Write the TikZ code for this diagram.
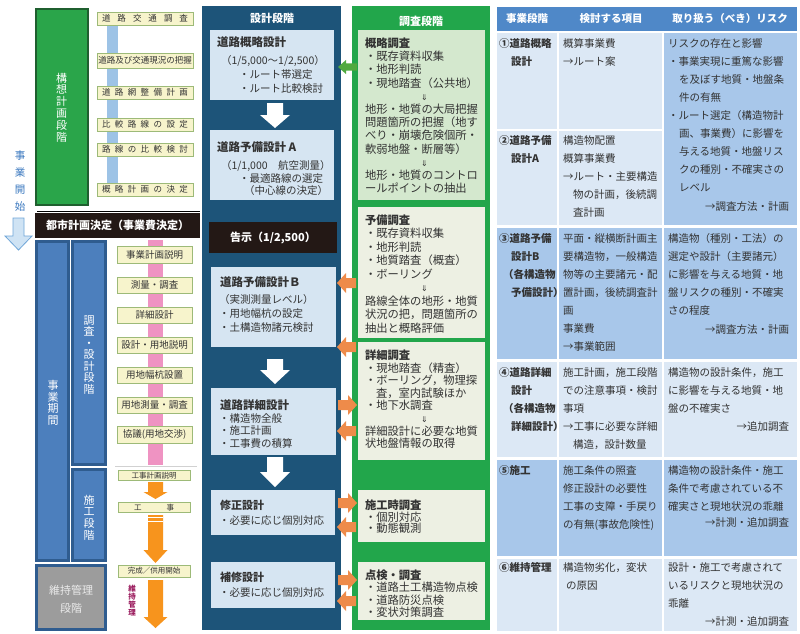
\documentclass[tikz,border=0pt]{standalone}
\usepackage{fontspec}
\setmainfont{Noto Sans CJK JP}
\newfontfamily\dejavu{DejaVu Sans}
\definecolor{kgreen}{HTML}{2AA54A}
\definecolor{kgreenD}{HTML}{1F5F2F}
\definecolor{sgreen}{HTML}{22A64B}
\definecolor{dnavy}{HTML}{1D5479}
\definecolor{dbox}{HTML}{D6E5F2}
\definecolor{sboxA}{HTML}{D4E8CE}
\definecolor{sboxB}{HTML}{EDF0E3}
\definecolor{yfill}{HTML}{F7F4CC}
\definecolor{yborder}{HTML}{9DBA78}
\definecolor{bbar}{HTML}{9DC3E6}
\definecolor{pinkbar}{HTML}{EF93C2}
\definecolor{orangeL}{HTML}{F7941D}
\definecolor{orangeM}{HTML}{EE8B4A}
\definecolor{garrow}{HTML}{50A93F}
\definecolor{thead}{HTML}{4F88C8}
\definecolor{tlight}{HTML}{DCE8F5}
\definecolor{tmid}{HTML}{A8C7EA}
\definecolor{pnavy}{HTML}{2F5C8F}
\definecolor{pblue}{HTML}{4C7FBD}
\definecolor{pgray}{HTML}{9C9C9C}
\definecolor{kaishi}{HTML}{3A78BF}
\definecolor{magent}{HTML}{9B1C5E}
\definecolor{bannerblack}{HTML}{231815}
\definecolor{lbfill}{HTML}{CFE3F4}
\definecolor{lbdraw}{HTML}{6FA6D8}
\definecolor{txt}{HTML}{333333}
\newcommand{\arrL}[3]{\fill[#1] (#2,#3) -- (#2+9,#3-10) -- (#2+9,#3-5) -- (#2+19,#3-5) -- (#2+19,#3+5) -- (#2+9,#3+5) -- (#2+9,#3+10) -- cycle;}
\newcommand{\arrR}[3]{\fill[#1] (#2,#3) -- (#2-9,#3-10) -- (#2-9,#3-5) -- (#2-19,#3-5) -- (#2-19,#3+5) -- (#2-9,#3+5) -- (#2-9,#3+10) -- cycle;}
\newcommand{\arrD}[7]{\fill[#1] (#2-#6,#3) -- (#2+#6,#3) -- (#2+#6,#4) -- (#2+#7,#4) -- (#2,#5) -- (#2-#7,#4) -- (#2-#6,#4) -- cycle;}
\newcommand{\dnarrow}{{\dejavu\fontsize{8}{8}\selectfont ⇓}}
\tikzset{
  every node/.style={inner sep=0pt, outer sep=0pt},
  rbox/.style={rectangle, anchor=north west, draw=none},
  ybox/.style={rectangle, anchor=north west, draw=yborder, fill=yfill, line width=0.8pt, text=txt, font=\fontsize{8.5}{9}\selectfont},
  ymid/.style={ybox, font=\fontsize{9.5}{10}\selectfont},
  ysmall/.style={ybox, font=\fontsize{7.5}{8}\selectfont},
  tt/.style={anchor=north west, align=left, text=txt, font=\fontsize{10.5}{18}\selectfont},
  tb/.style={anchor=north west, align=left, text=txt, font=\bfseries\fontsize{10.5}{18}\selectfont},
  tr/.style={anchor=east, text=txt, font=\fontsize{10.5}{18}\selectfont},
  th/.style={text=white, font=\bfseries\fontsize{10.5}{12}\selectfont},
  st/.style={anchor=north west, align=left, text=txt, font=\fontsize{11.3}{#1}\selectfont},
  dt/.style={anchor=north west, align=left, text=txt, font=\fontsize{10.5}{#1}\selectfont},
  dtitle/.style={anchor=north west, text=txt, font=\bfseries\fontsize{11.5}{14}\selectfont},
  vt/.style={align=center, font=\fontsize{11}{#1}\selectfont},
  banner/.style={rectangle, anchor=north west, fill=bannerblack, text=white, font=\bfseries\fontsize{11}{12}\selectfont},
  pframe/.style={rectangle, anchor=north west, draw=pnavy, line width=3pt, fill=pblue}
}
\begin{document}
\begin{tikzpicture}[x=1pt,y=-1pt]
\fill[white] (0,0) rectangle (800,634);
\useasboundingbox (0,0) rectangle (800,634);

% ---------- left: concept planning ----------
\node[rbox, fill=kgreen, draw=kgreenD, line width=2.5pt, minimum width=52, minimum height=196] (kousou) at (36,9) {};
\node[vt=11.8, text=white] (kousoutxt) at (61.5,107.5) {構\\想\\計\\画\\段\\階};
\fill[bbar] (107,25) rectangle (118,183);
\node[ybox, minimum width=96, minimum height=13.5] (y1) at (97,12) {\makebox[86pt]{道\hfill 路\hfill 交\hfill 通\hfill 調\hfill 査}};
\node[ybox, minimum width=96, minimum height=14.5] (y2) at (97,53.5) {道路及び交通現況の把握};
\node[ybox, minimum width=96, minimum height=13.5] (y3) at (97,86) {\makebox[86pt]{道\hfill 路\hfill 網\hfill 整\hfill 備\hfill 計\hfill 画}};
\node[ybox, minimum width=96, minimum height=13.5] (y4) at (97,118) {\makebox[86pt]{比\hfill 較\hfill 路\hfill 線\hfill の\hfill 設\hfill 定}};
\node[ybox, minimum width=96, minimum height=13.5] (y5) at (97,143) {\makebox[86pt]{路\hfill 線\hfill の\hfill 比\hfill 較\hfill 検\hfill 討}};
\node[ybox, minimum width=96, minimum height=13.5] (y6) at (97,183) {\makebox[86pt]{概\hfill 略\hfill 計\hfill 画\hfill の\hfill 決\hfill 定}};

\node[vt=17.3, text=kaishi, font=\fontsize{10.5}{17.3}\selectfont] (kaishitxt) at (20,181) {事\\業\\開\\始};
\filldraw[fill=lbfill, draw=lbdraw, line width=0.8pt] (13,218) -- (24,218) -- (24,236) -- (32,236) -- (18.5,250) -- (5,236) -- (13,236) -- cycle;

\draw[line width=1.2pt, black] (37,211.5) -- (200,211.5);
\node[banner, minimum width=165, minimum height=25] (toshi) at (35,213) {都市計画決定（事業費決定）};

% ---------- left: project period frames ----------
\node[pframe, minimum width=31.5, minimum height=319] (kikan) at (36.5,241.5) {};
\node[pframe, minimum width=33, minimum height=223] (chousa) at (72.5,241.5) {};
\node[pframe, minimum width=33, minimum height=91.5] (sekou) at (72.5,469) {};
\node[pframe, fill=pgray, minimum width=69, minimum height=64.5] (iji) at (36.5,565) {};
\node[vt=11.5, text=white] (kikantxt) at (53,403) {事\\業\\期\\間};
\node[vt=11.5, text=white] (chousatxt) at (89,355) {調\\査\\・\\設\\計\\段\\階};
\node[vt=11.7, text=white] (sekoutxt) at (89,517.5) {施\\工\\段\\階};
\node[vt=18, text=black!8] (ijitxt) at (71,599) {維持管理\\段階};

% ---------- left: process steps ----------
\fill[pinkbar] (148,240) rectangle (163,465);
\draw[black!18, line width=0.6pt] (115,466) -- (197,466);
\node[ymid, minimum width=75, minimum height=17] (m1) at (117,246) {事業計画説明};
\node[ymid, minimum width=75, minimum height=16.5] (m2) at (117,277) {測量・調査};
\node[ymid, minimum width=75, minimum height=16.5] (m3) at (117,307) {詳細設計};
\node[ymid, minimum width=75, minimum height=16.5] (m4) at (117,337) {設計・用地説明};
\node[ymid, minimum width=75, minimum height=16.5] (m5) at (117,367) {用地幅杭設置};
\node[ymid, minimum width=75, minimum height=16.5] (m6) at (117,397) {用地測量・調査};
\node[ymid, minimum width=75, minimum height=17, font=\fontsize{9.5}{10}\selectfont] (m7) at (117,426) {協議(用地交渉)};
\node[ysmall, minimum width=72, minimum height=10.5] (s1) at (118,470) {工事計画説明};
\arrD{orangeL}{155.5}{482}{492}{499}{7.5}{12}
\node[ysmall, minimum width=72, minimum height=10.5] (s2) at (118,502) {\makebox[40pt]{工\hfill 事}};
\arrD{orangeL}{155.5}{515}{550}{563}{7.5}{12}
\draw[white, line width=1.2pt] (148,517.5) -- (163,517.5);
\draw[white, line width=1.2pt] (148,521.5) -- (163,521.5);
\node[ysmall, minimum width=72, minimum height=12] (s3) at (118,565) {完成／供用開始};
\node[vt=8, text=magent, font=\bfseries\fontsize{7.5}{8}\selectfont] (ijikanri) at (132,601) {維\\持\\管\\理};
\arrD{orangeL}{155.5}{580}{617}{628}{7.5}{12}

% ---------- design column ----------
\node[rbox, fill=dnavy, minimum width=139, minimum height=624] (design) at (202,6) {};
\node[text=white, font=\bfseries\fontsize{11}{12}\selectfont] (designtitle) at (272,18) {設計段階};
\node[rbox, fill=dbox, minimum width=124, minimum height=70] (d1) at (210,30) {};
\node[dtitle] (d1t) at (217,36.8) {道路概略設計};
\node[dt=14] (d1b) at (221,55.3) {（1/5,000～1/2,500）\\\hspace*{18pt}・ルート帯選定\\\hspace*{18pt}・ルート比較検討};
\arrD{white}{275}{103}{115}{128}{8}{15}
\node[rbox, fill=dbox, minimum width=124, minimum height=70] (d2) at (210,130) {};
\node[dtitle] (d2t) at (217,141.8) {道路予備設計 A};
\node[dt=12.8] (d2b) at (221,160.3) {（1/1,000　航空測量）\\\hspace*{18pt}・最適路線の選定\\\hspace*{23pt}（中心線の決定）};
\node[banner, minimum width=128, minimum height=31] (kokuji) at (209,222) {告示（1/2,500）};
\node[rbox, fill=dbox, minimum width=125, minimum height=80] (d3) at (211,267) {};
\node[dtitle] (d3t) at (220,276.8) {道路予備設計Ｂ};
\node[dt=14] (d3b) at (219,294.3) {（実測測量レベル）\\・用地幅杭の設定\\・土構造物諸元検討};
\arrD{white}{275}{359}{370}{384}{8}{15}
\node[rbox, fill=dbox, minimum width=125, minimum height=67] (d4) at (211,388) {};
\node[dtitle] (d4t) at (220,399.8) {道路詳細設計};
\node[dt=12.7] (d4b) at (219,413.3) {・構造物全般\\・施工計画\\・工事費の積算};
\arrD{white}{275}{457}{472}{487}{8}{15}
\node[rbox, fill=dbox, minimum width=124, minimum height=45] (d5) at (211,490) {};
\node[dtitle, font=\bfseries\fontsize{11}{14}\selectfont] (d5t) at (220,500) {修正設計};
\node[dt=14] (d5b) at (219,515.3) {・必要に応じ個別対応};
\node[rbox, fill=dbox, minimum width=124, minimum height=46] (d6) at (211,562) {};
\node[dtitle, font=\bfseries\fontsize{11}{14}\selectfont] (d6t) at (220,572) {補修設計};
\node[dt=14] (d6b) at (219,587.3) {・必要に応じ個別対応};

% ---------- survey column ----------
\node[rbox, fill=sgreen, minimum width=138, minimum height=624] (survey) at (352,6) {};
\node[text=white, font=\bfseries\fontsize{11}{12}\selectfont] (surveytitle) at (421,21) {調査段階};
\node[rbox, fill=sboxA, minimum width=127, minimum height=170] (s1box) at (358,30) {};
\node[st=13.2] (s1t) at (365,37.8) {\textbf{概略調査}\\・既存資料収集\\・地形判読\\・現地踏査（公共地）\\\hspace*{56pt}\dnarrow\\地形・地質の大局把握\\問題箇所の把握（地す\\べり・崩壊危険個所・\\軟弱地盤・断層等）\\\hspace*{56pt}\dnarrow\\地形・地質のコントロ\\ールポイントの抽出};
\node[rbox, fill=sboxB, minimum width=127, minimum height=131] (s2box) at (358,207) {};
\node[st=13.5] (s2t) at (365,214.8) {\textbf{予備調査}\\・既存資料収集\\・地形判読\\・地質踏査（概査）\\・ボーリング\\\hspace*{56pt}\dnarrow\\路線全体の地形・地質\\状況の把，問題箇所の\\抽出と概略評価};
\node[rbox, fill=sboxB, minimum width=127, minimum height=118] (s3box) at (358,342) {};
\node[st=12.6] (s3t) at (365,349.8) {\textbf{詳細調査}\\・現地踏査（精査）\\・ボーリング，物理探\\\hspace*{11pt}査，室内試験ほか\\・地下水調査\\\hspace*{56pt}\dnarrow\\詳細設計に必要な地質\\状地盤情報の取得};
\node[rbox, fill=sboxB, minimum width=127, minimum height=52] (s4box) at (358,490) {};
\node[st=11.7] (s4t) at (365,499.8) {\textbf{施工時調査}\\・個別対応\\・動態観測};
\node[rbox, fill=sboxB, minimum width=127, minimum height=58] (s5box) at (358,562) {};
\node[st=12.3] (s5t) at (365,569.8) {\textbf{点検・調査}\\・道路土工構造物点検\\・道路防災点検\\・変状対策調査};

% ---------- arrows between columns ----------
\fill[garrow] (338,67) -- (346,60) -- (346,63.5) -- (357,63.5) -- (357,70.5) -- (346,70.5) -- (346,74) -- cycle;
\arrL{orangeM}{337}{283}
\arrL{orangeM}{337}{347}
\arrR{orangeM}{357}{405}
\arrL{orangeM}{337}{431}
\arrR{orangeM}{357}{503}
\arrL{orangeM}{337}{527}
\arrR{orangeM}{357}{580}
\arrL{orangeM}{337}{601}

% ---------- right table ----------
\node[rbox, fill=thead, minimum width=300, minimum height=24] (th) at (497,7) {};
\node[th] (th1) at (527,19) {事業段階};
\node[th] (th2) at (611,19) {検討する項目};
\node[th] (th3) at (730,19) {取り扱う（べき）リスク};

\node[rbox, fill=tlight, minimum width=60, minimum height=96] (r1a) at (497,33) {};
\node[rbox, fill=tlight, minimum width=103, minimum height=96] (r1b) at (559,33) {};
\node[rbox, fill=tmid, minimum width=133, minimum height=192] (r1c) at (664,33) {};
\node[rbox, fill=tlight, minimum width=60, minimum height=94] (r2a) at (497,131) {};
\node[rbox, fill=tlight, minimum width=103, minimum height=94] (r2b) at (559,131) {};
\node[rbox, fill=tmid, minimum width=60, minimum height=131] (r3a) at (497,228) {};
\node[rbox, fill=tmid, minimum width=103, minimum height=131] (r3b) at (559,228) {};
\node[rbox, fill=tmid, minimum width=133, minimum height=131] (r3c) at (664,228) {};
\node[rbox, fill=tlight, minimum width=60, minimum height=95] (r4a) at (497,362) {};
\node[rbox, fill=tlight, minimum width=103, minimum height=95] (r4b) at (559,362) {};
\node[rbox, fill=tlight, minimum width=133, minimum height=95] (r4c) at (664,362) {};
\node[rbox, fill=tmid, minimum width=60, minimum height=96] (r5a) at (497,460) {};
\node[rbox, fill=tmid, minimum width=103, minimum height=96] (r5b) at (559,460) {};
\node[rbox, fill=tmid, minimum width=133, minimum height=96] (r5c) at (664,460) {};
\node[rbox, fill=tlight, minimum width=60, minimum height=72] (r6a) at (497,559) {};
\node[rbox, fill=tlight, minimum width=103, minimum height=72] (r6b) at (559,559) {};
\node[rbox, fill=tlight, minimum width=133, minimum height=72] (r6c) at (664,559) {};

\node[tb] (t1a) at (499,38.3) {①道路概略\\\hspace*{12pt}設計};
\node[tt] (t1b) at (563,38.3) {概算事業費\\→ルート案};
\node[tt] (t1c) at (668,38.3) {リスクの存在と影響\\・事業実現に重篤な影響\\\hspace*{11pt}を及ぼす地質・地盤条\\\hspace*{11pt}件の有無\\・ルート選定（構造物計\\\hspace*{11pt}画、事業費）に影響を\\\hspace*{11pt}与える地質・地盤リス\\\hspace*{11pt}クの種別・不確実さの\\\hspace*{11pt}レベル};
\node[tr] (t1r) at (789,207) {→調査方法・計画};
\node[tb] (t2a) at (499,135.3) {②道路予備\\\hspace*{12pt}設計A};
\node[tt] (t2b) at (563,135.3) {構造物配置\\概算事業費\\→ルート・主要構造\\\hspace*{10pt}物の計画，後続調\\\hspace*{10pt}査計画};
\node[tb] (t3a) at (499,233.3) {③道路予備\\\hspace*{12pt}設計B\\\hspace*{4pt}（各構造物\\\hspace*{12pt}予備設計）};
\node[tt] (t3b) at (563,233.3) {平面・縦横断計画主\\要構造物，一般構造\\物等の主要諸元・配\\置計画，後続調査計\\画\\事業費\\→事業範囲};
\node[tt] (t3c) at (668,233.3) {構造物（種別・工法）の\\選定や設計（主要諸元）\\に影響を与える地質・地\\盤リスクの種別・不確実\\さの程度};
\node[tr] (t3r) at (789,330) {→調査方法・計画};
\node[tb] (t4a) at (499,367.3) {④道路詳細\\\hspace*{12pt}設計\\\hspace*{4pt}（各構造物\\\hspace*{12pt}詳細設計）};
\node[tt] (t4b) at (563,367.3) {施工計画，施工段階\\での注意事項・検討\\事項\\→工事に必要な詳細\\\hspace*{10pt}構造，設計数量};
\node[tt] (t4c) at (668,367.3) {構造物の設計条件，施工\\に影響を与える地質・地\\盤の不確実さ};
\node[tr] (t4r) at (789,427) {→追加調査};
\node[tb] (t5a) at (499,465.3) {⑤施工};
\node[tt] (t5b) at (563,465.3) {施工条件の照査\\修正設計の必要性\\工事の支障・手戻り\\の有無(事故危険性)};
\node[tt] (t5c) at (668,465.3) {構造物の設計条件・施工\\条件で考慮されている不\\確実さと現地状況の乖離};
\node[tr] (t5r) at (789,523) {→計測・追加調査};
\node[tb] (t6a) at (499,562.3) {⑥維持管理};
\node[tt] (t6b) at (563,562.3) {構造物劣化，変状\\\hspace*{3pt}の原因};
\node[tt] (t6c) at (668,562.3) {設計・施工で考慮されて\\いるリスクと現地状況の\\乖離};
\node[tr] (t6r) at (789,622) {→計測・追加調査};
\end{tikzpicture}
\end{document}
